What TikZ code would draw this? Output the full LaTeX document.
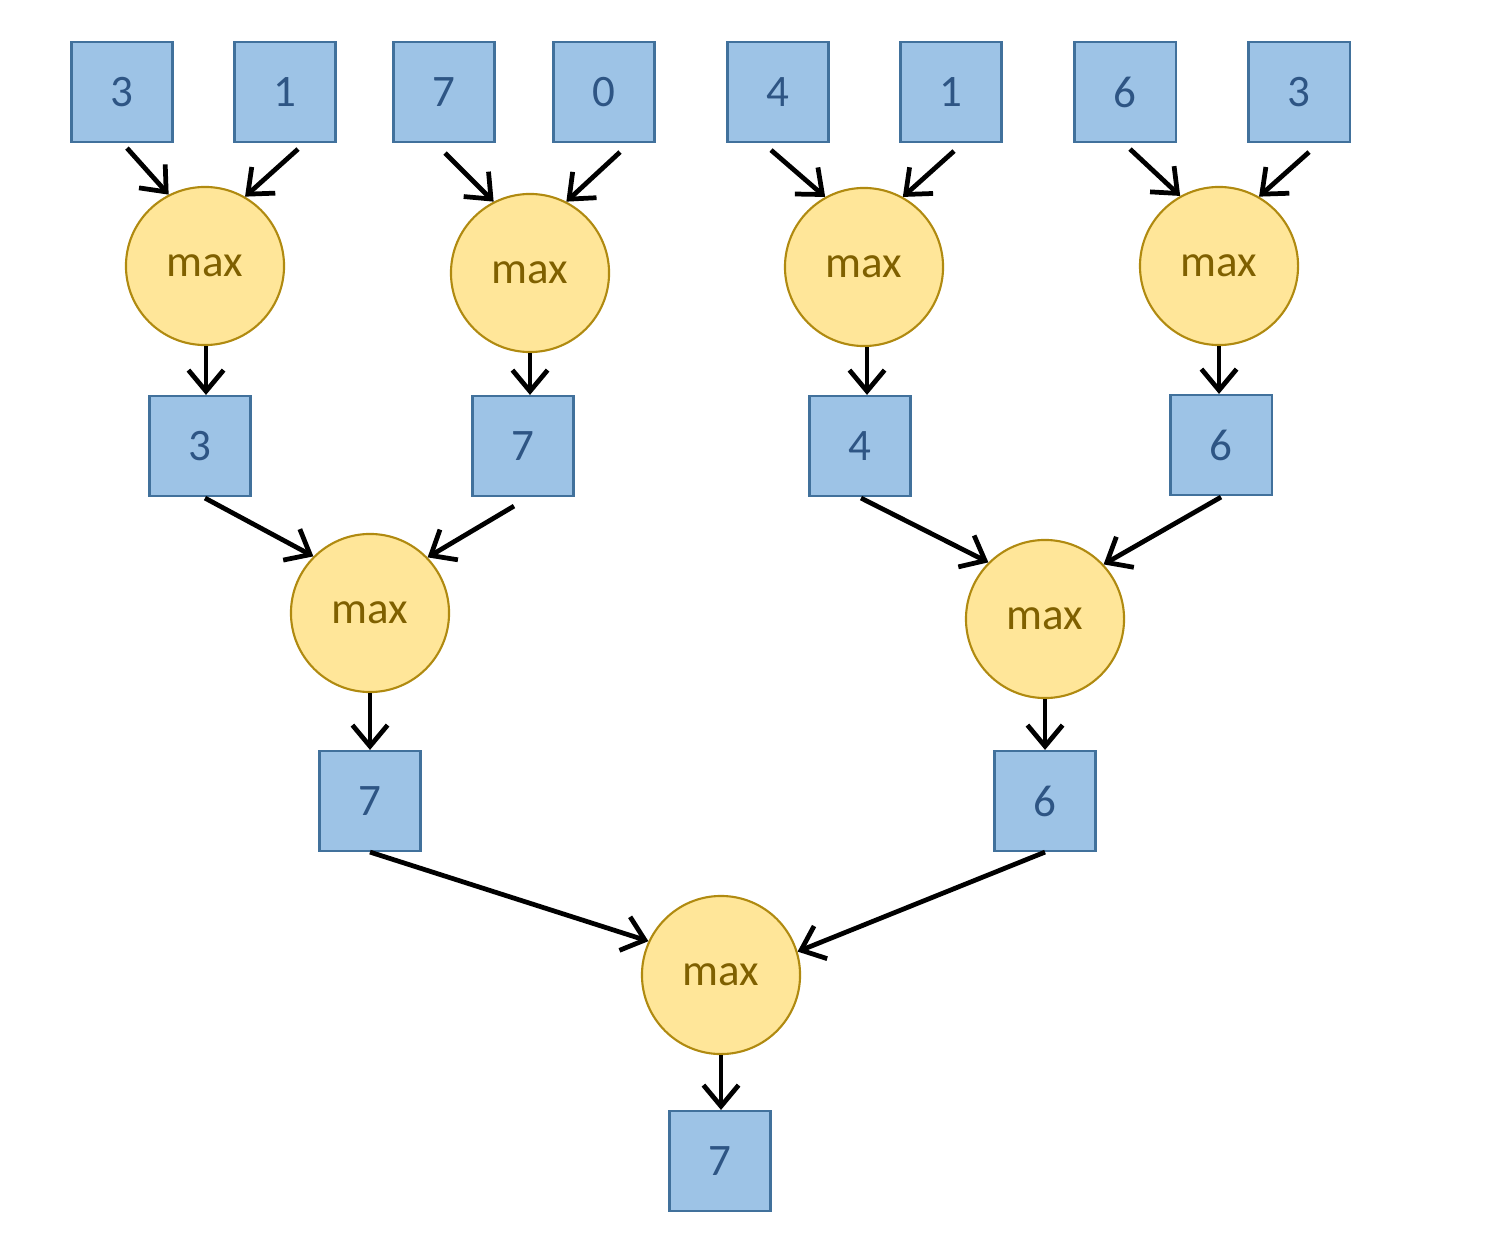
\documentclass[tikz,border=0pt]{standalone}
\usepackage{fontspec}
\setmainfont{Carlito}
\usepackage{tikz}
\usetikzlibrary{shapes, arrows.meta}
\definecolor{boxfill}{HTML}{9DC3E6}
\definecolor{boxline}{HTML}{41719C}
\definecolor{boxtext}{HTML}{2E5584}
\definecolor{opfill}{HTML}{FFE699}
\definecolor{opline}{HTML}{B08A10}
\definecolor{optext}{HTML}{7F6000}
\tikzstyle{val} = [draw=boxline, fill=boxfill, rectangle, line width=0.6pt, minimum width=1.01cm, minimum height=1cm, text=boxtext, font=\fontsize{12.8}{14}\selectfont]
\tikzstyle{maxop} = [draw=opline, fill=opfill, circle, line width=0.6pt, minimum size=1.58cm, inner sep=0pt, text=optext, font=\fontsize{12.8}{14}\selectfont]
\tikzstyle{link} = [->, line width=1.35pt]

\begin{document}
\begin{tikzpicture}[x=0.01cm, y=-0.01cm, >={Straight Barb[length=6pt, width=10pt]}]
        \useasboundingbox (0,0) rectangle (1489,1243);

        % 输入
        \node [val] (a1) at (122,92) {3};
        \node [val] (a2) at (285,92) {1};
        \node [val] (a3) at (444,92) {7};
        \node [val] (a4) at (604,92) {0};
        \node [val] (a5) at (778,92) {4};
        \node [val] (a6) at (951,92) {1};
        \node [val] (a7) at (1125,92) {6};
        \node [val] (a8) at (1299,92) {3};

        % 第一层
        \node [maxop] (m1) at (205,266) {max};
        \node [maxop] (m2) at (530,273) {max};
        \node [maxop] (m3) at (864,267) {max};
        \node [maxop] (m4) at (1219,266) {max};
        \node [val] (b1) at (200,446) {3};
        \node [val] (b2) at (523,446) {7};
        \node [val] (b3) at (860,446) {4};
        \node [val] (b4) at (1221,445) {6};

        % 第二层
        \node [maxop] (n1) at (370,613) {max};
        \node [maxop] (n2) at (1045,619) {max};
        \node [val] (c1) at (370,801) {7};
        \node [val] (c2) at (1045,801) {6};

        % 输出
        \node [maxop] (r) at (721,975) {max};
        \node [val] (out) at (720,1161) {7};

        % 连线
        \draw [link] ([shift={(5,5)}]a1.south) -- (m1.117);
        \draw [link] ([shift={(13,6)}]a2.south) -- (m1.60);
        \draw [link] ([shift={(1,10)}]a3.south) -- (m2.117);
        \draw [link] ([shift={(16,9)}]a4.south) -- (m2.63);
        \draw [link] ([shift={(-7,7)}]a5.south) -- (m3.119);
        \draw [link] ([shift={(3,8)}]a6.south) -- (m3.61);
        \draw [link] ([shift={(5,6)}]a7.south) -- (m4.119);
        \draw [link] ([shift={(10,9)}]a8.south) -- (m4.60);

        \draw [link] ([xshift=0.01cm]m1.south) -- ([xshift=0.01cm]m1.south |- b1.north);
        \draw [link] (m2.south) -- (m2.south |- b2.north);
        \draw [link] ([xshift=0.03cm]m3.south) -- ([xshift=0.03cm]m3.south |- b3.north);
        \draw [link] (m4.south) -- (m4.south |- b4.north);

        \draw [link] ([shift={(5,1)}]b1.south) -- (n1.135);
        \draw [link] ([shift={(-9,9)}]b2.south) -- (n1.44);
        \draw [link] ([shift={(1,1)}]b3.south) -- (n2.135);
        \draw [link] ([shift={(0,1)}]b4.south) -- (n2.43);

        \draw [link] (n1.south) -- (n1.south |- c1.north);
        \draw [link] (n2.south) -- (n2.south |- c2.north);

        \draw [link] (c1.south) -- (r.155);
        \draw [link] (c2.south) -- (r.17);
        \draw [link] (r.south) -- (r.south |- out.north);
\end{tikzpicture}
\end{document}
